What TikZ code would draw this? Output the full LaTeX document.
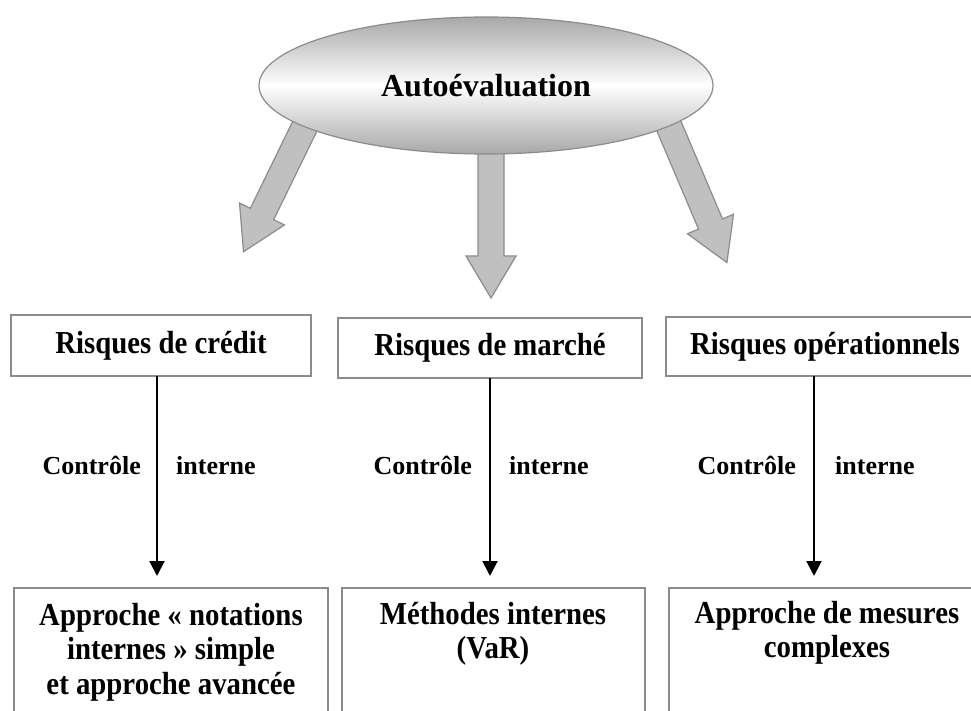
\documentclass[tikz,border=0pt]{standalone}
\usepackage{fontspec}
\setmainfont{Liberation Serif}
\newfontfamily\condfont{Liberation Serif}[FakeStretch=0.9]
\usetikzlibrary{shapes.geometric,calc,arrows.meta}
\definecolor{boxgray}{HTML}{8C8C8C}
\definecolor{arrowfill}{HTML}{C0C0C0}
\definecolor{ellgray}{HTML}{A8A8A8}
\tikzset{
  topbox/.style={draw=boxgray, line width=2pt, inner sep=0pt, outer sep=0pt,
    font=\condfont\fontsize{32}{34}\selectfont\bfseries},
  botbox/.style={draw=boxgray, line width=2pt, inner sep=0pt, outer sep=0pt, anchor=north west},
  bottext/.style={align=center, inner sep=0pt, anchor=north,
    font=\condfont\fontsize{32}{34.5}\selectfont\bfseries},
  lblleft/.style={inner sep=0pt, anchor=base east, font=\fontsize{26}{28}\selectfont\bfseries},
  lblright/.style={inner sep=0pt, anchor=base west, font=\fontsize{26}{28}\selectfont\bfseries},
  conn/.style={draw=black, line width=2pt, shorten >=12pt, -{Triangle[width=15pt,length=15pt]}},
  blockarrow/.style={fill=arrowfill, draw=boxgray, line width=1.2pt, line join=miter},
  ellnode/.style={ellipse, minimum width=454pt, minimum height=137pt, inner sep=0pt,
    draw=boxgray, line width=1.2pt, top color=ellgray, bottom color=ellgray, middle color=white,
    font=\fontsize{32}{34}\selectfont\bfseries},
}
\newcommand\blockarr[3]{%
  \draw[blockarrow] ($(#1)!13pt!90:(#2)$) -- ($(#2)!13pt!-90:(#1)$) -- ($(#2)!25pt!-90:(#1)$)
    -- (#3) -- ($(#2)!25pt!90:(#1)$) -- ($(#2)!13pt!90:(#1)$) -- ($(#1)!13pt!-90:(#2)$) -- cycle;}
\begin{document}
\begin{tikzpicture}[x=1pt,y=-1pt]
\useasboundingbox (0,0) rectangle (971,711);
\clip (0,0) rectangle (971,711);
\fill[white] (0,0) rectangle (971,711);

% block arrows
\coordinate (lS) at (308,119.7); \coordinate (lB) at (262,214); \coordinate (lT) at (243.5,251.7);
\coordinate (mS) at (491,150);   \coordinate (mB) at (491,256); \coordinate (mT) at (491,298);
\coordinate (rS) at (667.6,123); \coordinate (rB) at (710.5,224); \coordinate (rT) at (726.9,262.6);
\blockarr{lS}{lB}{lT}
\blockarr{mS}{mB}{mT}
\blockarr{rS}{rB}{rT}

% ellipse
\node[ellnode] (auto) at (486,85.5) {Autoévaluation};

% top boxes
\node[topbox, minimum width=300pt, minimum height=61pt] (r1) at (161,345.5) {Risques de crédit};
\node[topbox, minimum width=304pt, minimum height=60pt] (r2) at (490,348) {Risques de marché};
\node[topbox, minimum width=318pt, minimum height=59pt] (r3) at (825,346.5) {Risques opérationnels};

% bottom boxes
\node[botbox, minimum width=314pt, minimum height=140pt] (b1) at (14,588) {};
\node[botbox, minimum width=303pt, minimum height=140pt] (b2) at (342,588) {};
\node[botbox, minimum width=316pt, minimum height=140pt] (b3) at (669,588) {};
\node[bottext] (t1) at (171,603) {Approche « notations\\internes » simple\\et approche avancée};
\node[bottext] (t2) at (493,602) {Méthodes internes\\(VaR)};
\node[bottext] (t3) at (827,601) {Approche de mesures\\complexes};

% connectors
\coordinate (c1) at (157,0);
\coordinate (c2) at (490,0);
\coordinate (c3) at (814,0);
\draw[conn] (r1.south -| c1) -- (b1.north -| c1);
\draw[conn] (r2.south -| c2) -- (b2.north -| c2);
\draw[conn] (r3.south -| c3) -- (b3.north -| c3);

% labels
\node[lblleft]  (k1) at (141,474) {Contrôle};
\node[lblright] (i1) at (176,474) {interne};
\node[lblleft]  (k2) at (472,474) {Contrôle};
\node[lblright] (i2) at (509,474) {interne};
\node[lblleft]  (k3) at (796,474) {Contrôle};
\node[lblright] (i3) at (835,474) {interne};
\end{tikzpicture}
\end{document}
